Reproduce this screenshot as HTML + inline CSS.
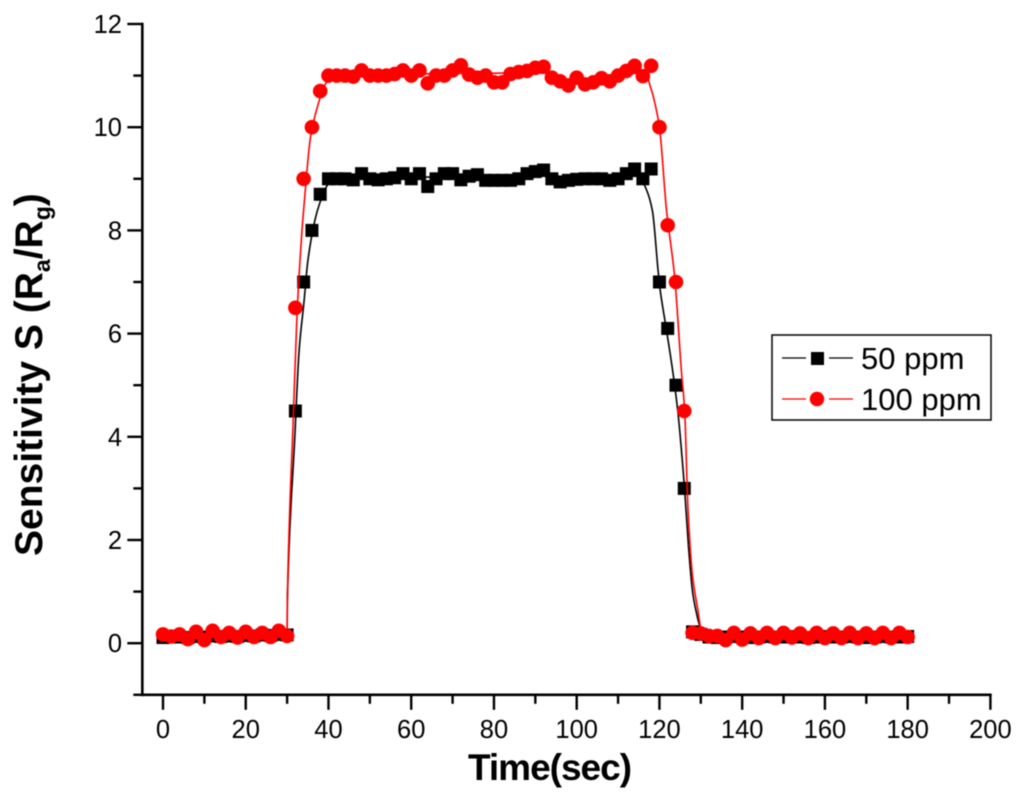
<!DOCTYPE html>
<html>
<head>
<meta charset="utf-8">
<title>Sensitivity vs Time</title>
<style>
html,body{margin:0;padding:0;background:#fff;width:1024px;height:801px;overflow:hidden}
svg{display:block;font-family:"Liberation Sans",sans-serif;filter:blur(0.5px)}
</style>
</head>
<body>
<svg id="chart" xmlns="http://www.w3.org/2000/svg" width="1024" height="801" viewBox="0 0 1024 801">
  <rect x="0" y="0" width="1024" height="801" fill="#fff"/>
  <g id="axes"></g>
  <g id="series"></g>
  <text x="549.5" y="780" text-anchor="middle" font-size="37" font-weight="bold" letter-spacing="-1">Time(sec)</text>
  <text transform="translate(42,556) rotate(-90)" font-size="39" font-weight="bold">Sensitivity S (R<tspan font-size="23" dy="8">a</tspan><tspan dy="-8">/R</tspan><tspan font-size="23" dy="8">g</tspan><tspan dy="-8">)</tspan></text>
  <g id="legend">
    <rect x="772" y="335" width="219" height="85" fill="#fff" stroke="#000" stroke-width="1.5"/>
    <g>
      <line x1="782" y1="358" x2="806" y2="358" stroke="#000" stroke-width="1.2"/>
      <line x1="829" y1="358" x2="853" y2="358" stroke="#000" stroke-width="1.2"/>
      <rect x="811" y="352" width="13" height="13" fill="#000"/>
      <text x="861" y="369" font-size="31">50 ppm</text>
    </g>
    <g>
      <line x1="782" y1="399" x2="806" y2="399" stroke="#f00" stroke-width="1.2"/>
      <line x1="829" y1="399" x2="853" y2="399" stroke="#f00" stroke-width="1.2"/>
      <circle cx="817" cy="399" r="7.2" fill="#f00"/>
      <text x="861" y="410" font-size="31">100 ppm</text>
    </g>
  </g>
</svg>
<script>
const xTickLabels = [0, 20, 40, 60, 80, 100, 120, 140, 160, 180, 200];
const xMinorTicks = [10, 30, 50, 70, 90, 110, 130, 150, 170, 190];
const yTickLabels = [0, 2, 4, 6, 8, 10, 12];
const yMinorTicks = [-1, 1, 3, 5, 7, 9, 11];
const xDomain = [0, 200];
const yDomain = [0, 12];

const times = [0,2,4,6,8,10,12,14,16,18,20,22,24,26,28,30,32,34,36,38,40,42,44,46,48,50,52,54,56,58,60,62,64,66,68,70,72,74,76,78,80,82,84,86,88,90,92,94,96,98,100,102,104,106,108,110,112,114,116,118,120,122,124,126,128,130,132,134,136,138,140,142,144,146,148,150,152,154,156,158,160,162,164,166,168,170,172,174,176,178,180];

const values50ppm = [.11,.12,.12,.11,.13,.12,.14,.13,.14,.13,.15,.14,.16,.15,.17,.16,
  4.5,7,8,8.7,
  9,9,9,8.98,9.1,9,8.98,9,9.02,9.1,9,9.1,8.85,9,9.1,9.1,8.98,9.05,
  9.08,8.97,8.97,8.97,8.97,9,9.1,9.14,9.17,
  9,8.94,8.97,8.99,9,9,9,8.97,9,9.1,9.19,9,9.19,
  7,6.1,5,3,
  .22,.17,
  .12,.11,.12,.13,.12,.11,.12,.13,.12,.12,.13,.12,.11,.12,.13,.12,.12,.13,.12,.11,.12,.13,.12,.12,.13];

const values100ppm = [.17,.13,.17,.08,.22,.06,.24,.12,.2,.11,.22,.12,.2,.12,.24,.14,
  6.5,9,10,10.7,
  11,11,11,10.98,11.1,11,11,11,11.03,11.1,11,11.1,10.85,11,11,11.1,11.2,11.02,
  10.96,11,10.87,10.87,11.03,11.07,11.09,11.15,11.17,
  10.96,10.89,10.81,10.96,10.83,10.87,10.95,10.89,11,11.09,11.19,10.99,11.19,
  10,8.1,7,4.5,
  .2,.19,
  .14,.14,.06,.2,.07,.19,.1,.2,.1,.2,.11,.19,.1,.2,.1,.19,.1,.2,.1,.19,.1,.2,.1,.2,.12];

const fitTimes50ppm = [0,30,30.05,31.9,32.9,34.1,35,36.7,37.9,39.6,41,92,97,115,116.8,118.3,119.7,120.2,121.6,123.2,124.5,126.1,127,128,128.8,129.7,131,180];
const fitValues50ppm = [.15,.15,.8,4.06,5.67,6.63,7.4,8.19,8.53,8.86,9,9.05,8.97,9.05,8.8,8.38,7.2,6.83,6.12,5.28,4.45,2.96,1.9,1,.64,.35,.15,.13];

const fitTimes100ppm = [0,30,30.05,31.5,32.4,33.6,34,35.7,37.9,39,41,92,97,106,115,117,117.6,118.5,120,121.7,123.7,125.3,126.1,126.9,128,129.3,130,132,180];
const fitValues100ppm = [.15,.15,.8,4.38,6.38,8,8.4,9.83,10.55,10.8,11,11.05,10.88,10.9,11.05,11,10.84,10.6,10,8.4,7.08,5.28,4.5,2.6,1.3,.64,.3,.15,.15];

const SVG_NS = 'http://www.w3.org/2000/svg';
const X0 = 163, X1 = 990.4, Y0 = 643.2, Y1 = 24;
function xScale(v) { return X0 + (v - xDomain[0]) / (xDomain[1] - xDomain[0]) * (X1 - X0); }
function yScale(v) { return Y0 + (v - yDomain[0]) / (yDomain[1] - yDomain[0]) * (Y1 - Y0); }
function make(tag, parent, attrs) {
  const el = document.createElementNS(SVG_NS, tag);
  for (const k in attrs) el.setAttribute(k, attrs[k]);
  parent.appendChild(el);
  return el;
}

const axes = document.getElementById('axes');
const series = document.getElementById('series');
const axisBottom = yScale(-1);
const axisLeft = xScale(-5);

const xAxisLine = make('line', axes, {x1: axisLeft - 1.3, y1: axisBottom, x2: X1 + 1.3, y2: axisBottom, stroke: '#000', 'stroke-width': 2.6});


const yAxisLine = make('line', axes, {x1: axisLeft, y1: Y1 - 1.3, x2: axisLeft, y2: axisBottom + 1.3, stroke: '#000', 'stroke-width': 2.6});



xTickLabels.forEach(function (v) {
  const tick = make('line', axes, {x1: xScale(v), y1: axisBottom, x2: xScale(v), y2: axisBottom + 15, stroke: '#000', 'stroke-width': 2.4});
  
  
  const label = make('text', axes, {x: xScale(v), y: 738, 'text-anchor': 'middle', 'font-size': 25.5});
  
  
  label.textContent = v;
});
xMinorTicks.forEach(function (v) {
  const tick = make('line', axes, {x1: xScale(v), y1: axisBottom, x2: xScale(v), y2: axisBottom + 9, stroke: '#000', 'stroke-width': 2.4});
  
  
});
yTickLabels.forEach(function (v) {
  const tick = make('line', axes, {x1: axisLeft - 15, y1: yScale(v), x2: axisLeft, y2: yScale(v), stroke: '#000', 'stroke-width': 2.4});
  
  
  const label = make('text', axes, {x: 122, y: yScale(v) + 9, 'text-anchor': 'end', 'font-size': 25.5});
  
  
  label.textContent = v;
});
yMinorTicks.forEach(function (v) {
  const tick = make('line', axes, {x1: axisLeft - 9, y1: yScale(v), x2: axisLeft, y2: yScale(v), stroke: '#000', 'stroke-width': 2.4});
  
  
});

function smoothPath(ts, vs) {
  const n = ts.length;
  const px = ts.map(xScale);
  const py = vs.map(yScale);
  const slopes = [];
  for (let i = 0; i < n - 1; i++) slopes.push((py[i + 1] - py[i]) / (px[i + 1] - px[i]));
  const m = [slopes[0]];
  for (let i = 1; i < n - 1; i++) {
    const a = slopes[i - 1], b = slopes[i];
    m.push(a * b <= 0 ? 0 : 2 * a * b / (a + b));
  }
  m.push(slopes[n - 2]);
  let d = 'M' + px[0].toFixed(2) + ' ' + py[0].toFixed(2);
  for (let i = 0; i < n - 1; i++) {
    const h = (px[i + 1] - px[i]) / 3;
    d += 'C' + (px[i] + h).toFixed(2) + ' ' + (py[i] + m[i] * h).toFixed(2) + ' ' +
         (px[i + 1] - h).toFixed(2) + ' ' + (py[i + 1] - m[i + 1] * h).toFixed(2) + ' ' +
         px[i + 1].toFixed(2) + ' ' + py[i + 1].toFixed(2);
  }
  return d;
}

const line50 = make('path', series, {d: smoothPath(fitTimes50ppm, fitValues50ppm), fill: 'none', stroke: '#000', 'stroke-width': 1.6});


values50ppm.forEach(function (v, i) {
  const m = make('rect', series, {x: xScale(times[i]) - 6.5, y: yScale(v) - 6.5, width: 13, height: 13, fill: '#000'});
  
  
});

const line100 = make('path', series, {d: smoothPath(fitTimes100ppm, fitValues100ppm), fill: 'none', stroke: '#f00', 'stroke-width': 1.6});


values100ppm.forEach(function (v, i) {
  const m = make('circle', series, {cx: xScale(times[i]), cy: yScale(v), r: 7.3, fill: '#f00'});
  
  
});
</script>
</body>
</html>
